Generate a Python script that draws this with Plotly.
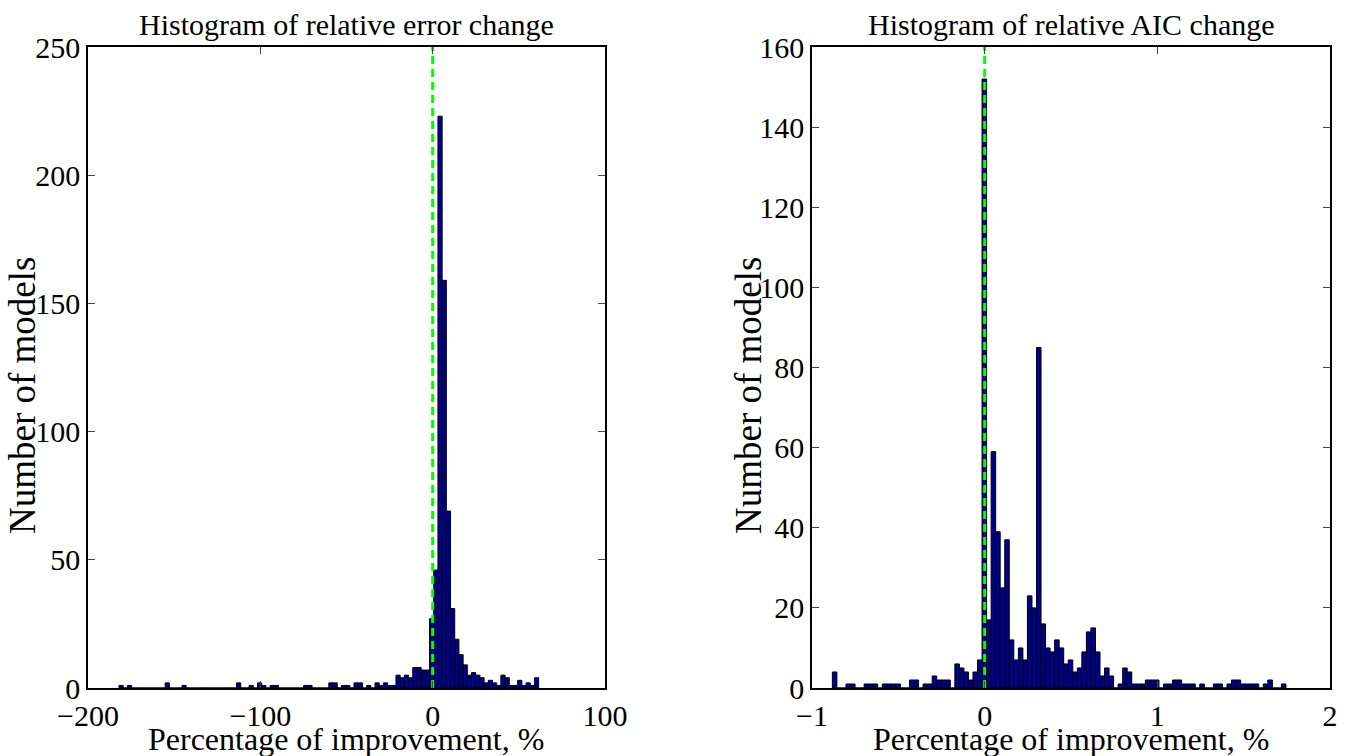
import plotly.graph_objects as go

# ---------------- data ----------------
# Left: relative error change (100 bins between data min and max)
err_min = -182.0
err_max = 61.5
err_counts = [
    1, 0, 1, 0, 0, 0, 0, 0, 0, 0,
    0, 2, 0, 0, 0, 1, 0, 0, 0, 0,
    0, 0, 0, 0, 0, 0, 0, 0, 2, 0,
    0, 1, 0, 2, 1, 0, 1, 1, 0, 0,
    0, 0, 0, 0, 1, 1, 0, 0, 0, 0,
    2, 2, 0, 1, 1, 0, 2, 2, 0, 1,
    0, 2, 1, 2, 1, 1, 5, 4, 5, 4,
    8, 8, 7, 7, 27, 46, 223, 159, 69, 31,
    19, 13, 9, 5, 6, 5, 4, 2, 3, 2,
    1, 5, 4, 1, 1, 3, 1, 2, 1, 4,
]

# Right: relative AIC change (100 bins between data min and max)
aic_min = -0.882
aic_max = 1.745
aic_counts = [
    4, 0, 0, 1, 1, 0, 0, 1, 1, 1,
    0, 1, 1, 1, 1, 0, 0, 2, 2, 0,
    1, 1, 3, 2, 2, 2, 0, 6, 5, 4,
    2, 4, 7, 152, 17, 59, 39, 25, 37, 12,
    7, 10, 7, 23, 20, 85, 16, 10, 9, 12,
    10, 6, 7, 4, 5, 9, 14, 15, 9, 3,
    5, 3, 0, 1, 5, 4, 1, 1, 1, 2,
    2, 2, 0, 1, 1, 2, 2, 1, 1, 1,
    0, 1, 0, 0, 1, 1, 0, 1, 2, 2,
    1, 1, 1, 1, 0, 1, 2, 0, 0, 1,
]

left_xticks = [-200, -100, 0, 100]
left_yticks = [0, 50, 100, 150, 200, 250]
right_xticks = [-1, 0, 1, 2]
right_yticks = [0, 20, 40, 60, 80, 100, 120, 140, 160]

left_title = "Histogram of relative error change"
right_title = "Histogram of relative AIC change"
x_label = "Percentage of improvement, %"
y_label = "Number of models"


def bin_centers(lo, hi, n):
    w = (hi - lo) / n
    return [lo + (i + 0.5) * w for i in range(n)], w


# ---------------- figure ----------------
W, H = 1346, 756
BAR = "rgb(0,0,143)"
GREEN = "#00ff00"
FONT = "Liberation Serif"

fig = go.Figure()

ec, ew = bin_centers(err_min, err_max, len(err_counts))
ac, aw = bin_centers(aic_min, aic_max, len(aic_counts))

fig.add_trace(go.Bar(x=ec, y=err_counts, width=ew, xaxis="x", yaxis="y",
                     marker=dict(color=BAR, line=dict(color="black", width=1)),
                     showlegend=False))
fig.add_trace(go.Scatter(x=[0, 0], y=[0, left_yticks[-1]], mode="lines", xaxis="x", yaxis="y",
                         line=dict(color=GREEN, width=3, dash="8px,5px"), showlegend=False))

fig.add_trace(go.Bar(x=ac, y=aic_counts, width=aw, xaxis="x2", yaxis="y2",
                     marker=dict(color=BAR, line=dict(color="black", width=1)),
                     showlegend=False))
fig.add_trace(go.Scatter(x=[0, 0], y=[0, right_yticks[-1]], mode="lines", xaxis="x2", yaxis="y2",
                         line=dict(color=GREEN, width=3, dash="8px,5px"), showlegend=False))

# plot-area pixel boxes
L1, R1 = 88, 605
L2, R2 = 812, 1330
TOP, BOT = 47, 688

axis_common = dict(showgrid=False, zeroline=False, showline=True, linecolor="black",
                   linewidth=1.5, mirror="ticks", ticks="inside", ticklen=7,
                   tickwidth=1, tickcolor="#444", automargin=False,
                   tickfont=dict(family=FONT, size=30, color="black"))

fig.update_layout(
    width=W, height=H,
    margin=dict(l=0, r=0, t=0, b=0, autoexpand=False),
    paper_bgcolor="white", plot_bgcolor="white",
    barmode="overlay",
    xaxis=dict(domain=[L1 / W, R1 / W], range=[-200, 100], tickvals=left_xticks,
               anchor="y", **axis_common),
    yaxis=dict(domain=[1 - BOT / H, 1 - TOP / H], range=[0, 250], tickvals=left_yticks,
               anchor="x", **axis_common),
    xaxis2=dict(domain=[L2 / W, R2 / W], range=[-1, 2], tickvals=right_xticks,
                anchor="y2", **axis_common),
    yaxis2=dict(domain=[1 - BOT / H, 1 - TOP / H], range=[0, 160], tickvals=right_yticks,
                anchor="x2", **axis_common),
)

ann = []
for cx, t in [((L1 + R1) / 2, left_title), ((L2 + R2) / 2, right_title)]:
    ann.append(dict(x=cx / W, y=1 - 25 / H, xref="paper", yref="paper", text=t,
                    showarrow=False, xanchor="center", yanchor="middle",
                    font=dict(family=FONT, size=30, color="black")))
    ann.append(dict(x=cx / W, y=1 - 739 / H, xref="paper", yref="paper", text=x_label,
                    showarrow=False, xanchor="center", yanchor="middle",
                    font=dict(family=FONT, size=32, color="black")))
for cx in [22, 748]:
    ann.append(dict(x=cx / W, y=1 - 396 / H, xref="paper", yref="paper", text=y_label,
                    showarrow=False, xanchor="center", yanchor="middle", textangle=-90,
                    font=dict(family=FONT, size=37, color="black")))
fig.update_layout(annotations=ann)

fig.write_html(
    "out.html",
    config={"displayModeBar": False},
    post_script="document.body.style.margin='0';document.body.style.padding='0';"
                "document.body.style.overflow='hidden';",
)
